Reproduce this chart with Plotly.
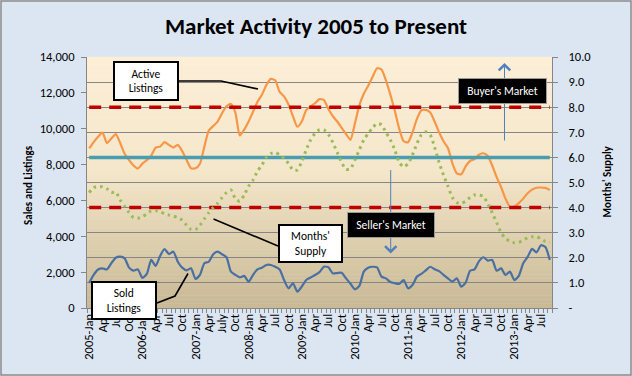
import plotly.graph_objects as go

# ---------------- data ----------------
YEARS = [2005, 2006, 2007, 2008, 2009, 2010, 2011, 2012, 2013]
MONTH_ABBR = ["Jan", "Feb", "Mar", "Apr", "May", "Jun", "Jul", "Aug", "Sep", "Oct", "Nov", "Dec"]
months = [f"{y}-{m}" for y in YEARS for m in MONTH_ABBR][:105]   # 2005-Jan .. 2013-Sep

# tick labels shown every third month
tick_labels = [
    "2005-Jan", "Apr", "Jul", "Oct",
    "2006-Jan", "Apr", "Jul", "Oct",
    "2007-Jan", "Apr", "July", "Oct",
    "2008-Jan", "Apr", "Jul", "Oct",
    "2009-Jan", "Apr", "Jul", "Oct",
    "2010-Jan", "Apr", "Jul", "Oct",
    "2011-Jan", "Apr", "Jul", "Oct",
    "2012-Jan", "Apr", "Jul", "Oct",
    "2013-Jan", "Apr", "Jul",
]

active_listings = [
    8900, 9250, 9550, 9780, 9200, 9450, 9700, 9200, 8600, 8250, 7950, 7780,
    8050, 8250, 8500, 8950, 9000, 9250, 9100, 8950, 9100, 8750, 8250, 7790,
    7790, 8050, 9000, 9900, 10150, 10400, 10870, 11250, 11380, 10900, 9620, 9950,
    10400, 10950, 11500, 11900, 12440, 12780, 12700, 12050, 11800, 11350, 10700, 10110,
    10400, 11040, 11250, 11420, 11650, 11600, 11100, 10700, 10400, 10050, 9700, 9380,
    10300, 11300, 11950, 12400, 12900, 13370, 13300, 12700, 11900, 11000, 10000, 9300,
    9250, 9800, 10550, 11030, 11050, 10900, 10400, 9800, 9300, 8920, 8080, 7510,
    7460, 7900, 8200, 8300, 8550, 8630, 8480, 7950, 7300, 6750, 6100, 5650,
    5660, 5850, 6100, 6400, 6600, 6710, 6720, 6700, 6580,
]

sold_listings = [
    1400, 1850, 2150, 2210, 2150, 2500, 2800, 2860, 2770, 2250, 2080, 2150,
    1680, 1900, 2680, 2350, 2900, 3290, 3010, 3140, 2580, 2250, 2100, 2210,
    1620, 1850, 2500, 2580, 3000, 3150, 3000, 2830, 2030, 1850, 1710, 1790,
    1470, 1850, 2150, 2250, 2400, 2400, 2300, 2150, 1560, 1100, 1380, 910,
    1200, 1560, 1700, 1840, 2000, 2300, 2270, 1930, 1950, 1970, 1650, 1350,
    1040, 1230, 2030, 2250, 2300, 2270, 1750, 1650, 1450, 1380, 1340, 1560,
    1100, 1280, 1750, 1900, 2100, 2300, 2160, 2060, 1850, 1650, 1470, 1660,
    1190, 1410, 2080, 2150, 2600, 2830, 2640, 2680, 2080, 2210, 1840, 2030,
    1560, 1790, 2500, 2850, 3300, 3100, 3500, 3400, 2680,
]

months_supply = [
    4.60, 4.80, 4.83, 4.83, 4.75, 4.60, 4.62, 4.30, 4.05, 3.80, 3.60, 3.58,
    3.64, 3.75, 3.87, 3.88, 3.84, 3.75, 3.70, 3.66, 3.60, 3.50, 3.30, 3.13,
    3.12, 3.30, 3.55, 3.80, 4.00, 4.17, 4.40, 4.60, 4.70, 4.35, 4.25, 4.50,
    4.85, 5.10, 5.45, 5.70, 6.00, 6.15, 6.20, 6.10, 5.95, 5.76, 5.50, 5.50,
    5.83, 6.30, 6.70, 6.96, 7.10, 7.10, 6.92, 6.60, 6.20, 5.80, 5.52, 5.55,
    5.90, 6.30, 6.70, 6.95, 7.18, 7.35, 7.30, 7.00, 6.70, 6.30, 5.80, 5.62,
    5.75, 6.10, 6.55, 6.90, 7.02, 6.90, 6.40, 5.80, 5.30, 4.85, 4.40, 4.20,
    4.17, 4.25, 4.40, 4.50, 4.50, 4.45, 4.15, 3.80, 3.40, 3.00, 2.78, 2.65,
    2.60, 2.62, 2.70, 2.80, 2.84, 2.84, 2.76, 2.65, 2.62,
]

BUYER_LEVEL = 8.0      # months' supply above which it is a buyer's market
BALANCED_LEVEL = 6.0
SELLER_LEVEL = 4.0

left_ticks = [0, 2000, 4000, 6000, 8000, 10000, 12000, 14000]
left_tick_text = ["0", "2,000", "4,000", "6,000", "8,000", "10,000", "12,000", "14,000"]
right_ticks = [0, 1, 2, 3, 4, 5, 6, 7, 8, 9, 10]
right_tick_text = ["-", "1.0", "2.0", "3.0", "4.0", "5.0", "6.0", "7.0", "8.0", "9.0", "10.0"]

# ---------------- figure ----------------
FONT = "Carlito, Lato, 'Open Sans', sans-serif"
W, H = 632, 376
ML, MR, MT, MB = 87, 80, 57, 68
PW, PH = W - ML - MR, H - MT - MB


def px(x):
    return (x - ML) / PW


def py(y):
    return (H - MB - y) / PH


fig = go.Figure()

n = len(months)
fig.add_trace(go.Scatter(x=months, y=[BUYER_LEVEL] * n, yaxis="y2", mode="lines",
                         line=dict(color="#C00000", width=3.5, dash="12px,8px"),
                         hoverinfo="skip", showlegend=False))
fig.add_trace(go.Scatter(x=months, y=[SELLER_LEVEL] * n, yaxis="y2", mode="lines",
                         line=dict(color="#C00000", width=3.5, dash="12px,8px"),
                         hoverinfo="skip", showlegend=False))
fig.add_trace(go.Scatter(x=months, y=[BALANCED_LEVEL] * n, yaxis="y2", mode="lines",
                         line=dict(color="#4A9DAE", width=3.5),
                         hoverinfo="skip", showlegend=False))

fig.add_trace(go.Scatter(x=months, y=active_listings, mode="lines", name="Active Listings",
                         line=dict(color="#F79646", width=2.2, shape="spline", smoothing=0.6),
                         showlegend=False))
fig.add_trace(go.Scatter(x=months, y=sold_listings, mode="lines", name="Sold Listings",
                         line=dict(color="#4A70A2", width=2.2, shape="spline", smoothing=0.6),
                         showlegend=False))
fig.add_trace(go.Scatter(x=months, y=months_supply, yaxis="y2", mode="lines", name="Months' Supply",
                         line=dict(color="#9BBB59", width=3, dash="2.6px,4px", shape="spline", smoothing=0.6),
                         showlegend=False))

# gradient plot background
shapes = []
top = (253, 239, 214)
mid = (245, 231, 202)
bot = (200, 184, 148)
N = 60
for i in range(N):
    f0, f1 = i / N, (i + 1) / N
    t = (f0 + f1) / 2  # 0 bottom -> 1 top
    if t > 0.55:
        u = (t - 0.55) / 0.45
        c = [mid[k] + (top[k] - mid[k]) * u for k in range(3)]
    else:
        u = t / 0.55
        c = [bot[k] + (mid[k] - bot[k]) * u for k in range(3)]
    col = "rgb(%d,%d,%d)" % tuple(int(round(v)) for v in c)
    shapes.append(dict(type="rect", xref="paper", yref="paper", x0=0, x1=1, y0=f0, y1=f1 + 0.001,
                       fillcolor=col, line=dict(width=0), layer="below"))

# chart border
shapes.append(dict(type="rect", xref="paper", yref="paper",
                   x0=px(1), x1=px(631), y0=py(375), y1=py(1),
                   line=dict(color="#8C8C8C", width=1.5), fillcolor="rgba(0,0,0,0)", layer="above"))

# callout connector lines
conn = dict(color="black", width=1.6)
shapes.append(dict(type="path", xref="paper", yref="paper", layer="above", line=conn,
                   path=f"M {px(179)},{py(81)} L {px(221)},{py(81)} L {px(258)},{py(89)}"))
shapes.append(dict(type="path", xref="paper", yref="paper", layer="above", line=conn,
                   path=f"M {px(213.5)},{py(219)} L {px(278)},{py(246)}"))
shapes.append(dict(type="path", xref="paper", yref="paper", layer="above", line=conn,
                   path=f"M {px(157)},{py(303)} L {px(175)},{py(296)} L {px(188)},{py(273.5)}"))

annotations = []
# market arrows
annotations.append(dict(xref="paper", yref="paper", x=px(504.5), y=py(63), ax=0, ay=79,
                        text="", showarrow=True, arrowhead=4, arrowsize=2.2, arrowwidth=1,
                        arrowcolor="#4F81BD", standoff=0))
annotations.append(dict(xref="paper", yref="paper", x=px(390.7), y=py(253.5), ax=0, ay=-85,
                        text="", showarrow=True, arrowhead=4, arrowsize=2.2, arrowwidth=1,
                        arrowcolor="#4F81BD", standoff=0))


def box(text, cx, cy, w, h, bg, fg, bw, bc):
    return dict(xref="paper", yref="paper", x=px(cx), y=py(cy), xanchor="center", yanchor="middle",
                text=text, showarrow=False, bgcolor=bg, bordercolor=bc, borderwidth=bw, borderpad=0,
                width=w - 2 * bw, height=h - 2 * bw, align="center",
                font=dict(family=FONT, size=11.5, color=fg))


annotations.append(box("Active<br>Listings", 146, 80.5, 66, 40, "white", "black", 2, "black"))
annotations.append(box("Months'<br>Supply", 310.5, 243.5, 65, 39, "white", "black", 2, "black"))
annotations.append(box("Sold<br>Listings", 124, 300.5, 66, 39, "white", "black", 2, "black"))
annotations.append(box("Buyer's Market", 502.5, 90.5, 89, 26, "black", "white", 1, "#9A9A9A"))
annotations.append(box("Seller's Market", 391, 224.5, 88, 26, "black", "white", 1, "#9A9A9A"))

# axis titles
annotations.append(dict(xref="paper", yref="paper", x=px(28), y=py(185), text="<b>Sales and Listings</b>",
                        textangle=-90, showarrow=False, xanchor="center", yanchor="middle",
                        font=dict(family=FONT, size=11, color="black")))
annotations.append(dict(xref="paper", yref="paper", x=px(607), y=py(181.5), text="<b>Months' Supply</b>",
                        textangle=-90, showarrow=False, xanchor="center", yanchor="middle",
                        font=dict(family=FONT, size=11, color="black")))

# x tick labels every 3 months; ticks at every month boundary
x_tickvals = months
x_ticktext = []
j = 0
for i, m in enumerate(months):
    if i % 3 == 0 and j < len(tick_labels):
        x_ticktext.append(tick_labels[j])
        j += 1
    else:
        x_ticktext.append("")

axis_line = "#868686"
fig.update_layout(
    width=W, height=H, autosize=False,
    margin=dict(l=ML, r=MR, t=MT, b=MB, pad=0),
    paper_bgcolor="#DCE6F2",
    plot_bgcolor="rgba(0,0,0,0)",
    font=dict(family=FONT, size=12, color="black"),
    title=dict(text="<b>Market Activity 2005 to Present</b>", x=0.5, xref="container", xanchor="center",
               y=1 - 26 / H, yref="container", yanchor="middle",
               font=dict(family=FONT, size=23, color="black")),
    xaxis=dict(type="category", tickmode="array", tickvals=x_tickvals, ticktext=x_ticktext,
               tickson="boundaries", ticks="outside", ticklen=4, tickcolor=axis_line,
               tickangle=-90, tickfont=dict(family=FONT, size=12.5, color="black"),
               showline=True, linecolor=axis_line, linewidth=1, showgrid=False, zeroline=False,
               range=[-0.5, n - 0.5], fixedrange=True),
    yaxis=dict(range=[0, 14000], tickmode="array", tickvals=left_ticks, ticktext=left_tick_text,
               ticks="outside", ticklen=5, tickcolor=axis_line, showline=True, linecolor=axis_line,
               showgrid=False, zeroline=False, tickfont=dict(family=FONT, size=12.5, color="black"),
               ticklabelstandoff=4),
    yaxis2=dict(range=[0, 10], overlaying="y", side="right", tickmode="array", tickvals=right_ticks,
                ticktext=right_tick_text, ticks="outside", ticklen=5, tickcolor=axis_line,
                showline=True, linecolor=axis_line, showgrid=True, gridcolor=axis_line, gridwidth=1,
                zeroline=False, tickfont=dict(family=FONT, size=12.5, color="black"),
                ticklabelstandoff=8),
    shapes=shapes,
    annotations=annotations,
    showlegend=False,
)

fig.write_html("out.html", config={"displayModeBar": False},
               post_script="document.body.style.margin='0';")
